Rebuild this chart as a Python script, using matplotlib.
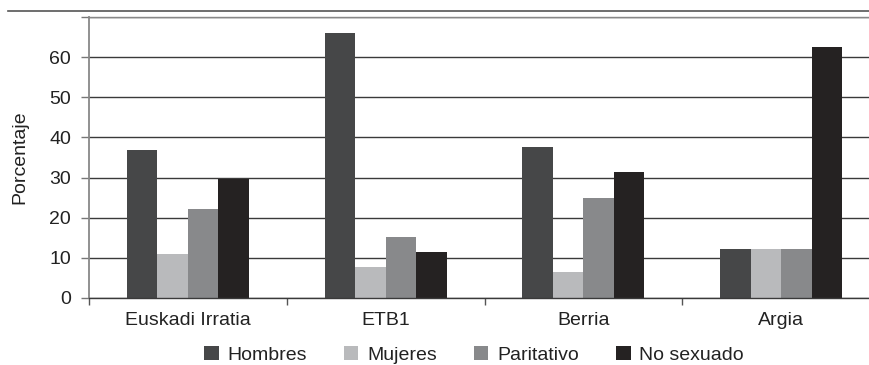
import matplotlib.pyplot as plt
import numpy as np
from matplotlib.patches import Patch
from matplotlib.lines import Line2D

plt.rcParams["font.family"] = ["Liberation Sans", "DejaVu Sans"]

# Data
categories = ["Euskadi Irratia", "ETB1", "Berria", "Argia"]
series_names = ["Hombres", "Mujeres", "Paritativo", "No sexuado"]
hombres = [36.9, 66.1, 37.7, 12.3]
mujeres = [11.0, 7.6, 6.4, 12.3]
paritativo = [22.2, 15.1, 25.0, 12.3]
no_sexuado = [29.7, 11.4, 31.3, 62.6]
colors = ["#464748", "#b9babc", "#88898b", "#252222"]

W, H = 869, 365
fig = plt.figure(figsize=(W / 100, H / 100), dpi=100)

# axes position in pixels (right edge runs a bit past the image, as in the reference)
left, right, bottom, top = 89, 880, 298, 17
ax = fig.add_axes([left / W, 1 - bottom / H, (right - left) / W, (bottom - top) / H])

values = [hombres, mujeres, paritativo, no_sexuado]
x = np.arange(len(categories)) + 0.5
width = 0.154
for i, (vals, col) in enumerate(zip(values, colors)):
    ax.bar(x + (i - 1.5) * width, vals, width=width, color=col, zorder=3, linewidth=0)

ax.set_xlim(0, len(categories))
ax.set_ylim(0, 70)

# y axis: ticks at 0..70, labels only up to 60
ax.set_yticks(np.arange(0, 71, 10))
ax.set_yticklabels([str(v) for v in range(0, 61, 10)] + [""])
ax.yaxis.grid(True, color="#3a3a3a", linewidth=1.0, zorder=0)
ax.tick_params(axis="y", direction="out", length=6, width=1.0, color="#777777",
               pad=7, labelsize=14, labelcolor="#222222")

# x axis: ticks on the category boundaries, labels in the middle
ax.set_xticks(np.arange(0, len(categories) + 1))
ax.set_xticklabels([])
ax.set_xticks(x, minor=True)
ax.set_xticklabels(categories, minor=True)
ax.tick_params(axis="x", which="major", direction="out", length=5, width=1.0, color="#555555")
ax.tick_params(axis="x", which="minor", length=0, pad=10, labelsize=14, labelcolor="#222222")

ax.spines["right"].set_visible(False)
ax.spines["top"].set_color("#888888")
ax.spines["top"].set_linewidth(1.0)
ax.spines["left"].set_color("#888888")
ax.spines["left"].set_linewidth(1.3)
ax.spines["bottom"].set_color("#3a3a3a")
ax.spines["bottom"].set_linewidth(1.0)
ax.spines["bottom"].set_zorder(4)

ax.set_ylabel("Porcentaje", fontsize=14, color="#222222")
ax.yaxis.set_label_coords(-(left - 28) / (right - left), 0.5)

# rule across the top of the figure
fig.add_artist(Line2D([8 / W, 1], [1 - 11 / H, 1 - 11 / H], color="#555555", linewidth=1.2))

handles = [Patch(facecolor=c, edgecolor="none") for c in colors]
fig.legend(handles, series_names, loc="center", bbox_to_anchor=(474 / W, 1 - 355 / H),
           ncol=4, frameon=False, fontsize=14, handlelength=0.75, handleheight=0.75,
           handletextpad=0.45, columnspacing=1.9, borderpad=0, labelcolor="#222222")

fig.savefig("out.png", dpi=100)
